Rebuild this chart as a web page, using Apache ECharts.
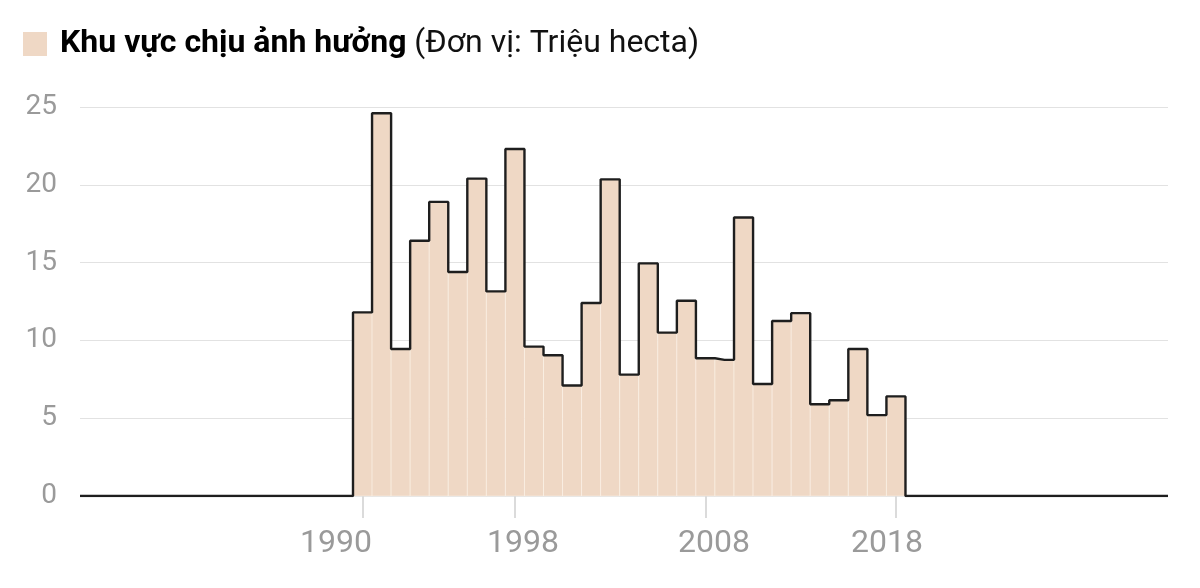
<!DOCTYPE html>
<html>
<head>
<meta charset="utf-8">
<script src="https://cdn.jsdelivr.net/npm/echarts@6/dist/echarts.min.js"></script>
<style>
html,body{margin:0;padding:0;background:#fff;}
#chart{width:1200px;height:588px;}
</style>
</head>
<body>
<div id="chart"></div>
<script>
// ---- Data ----
const years = [1990,1991,1992,1993,1994,1995,1996,1997,1998,1999,2000,2001,2002,2003,2004,2005,2006,2007,2008,2009,2010,2011,2012,2013,2014,2015,2016,2017,2018];
const areaValues = [11.8,24.6,9.45,16.4,18.9,14.4,20.4,13.15,22.3,9.6,9.05,7.1,12.4,20.35,7.8,14.95,10.5,12.55,8.85,8.75,17.9,7.2,11.25,11.75,5.9,6.15,9.45,5.2,6.4];
const xTickLabels = [1990,1998,2008,2018];
const yTicks = [0,5,10,15,20,25];
const titleBold = 'Khu vực chịu ảnh hưởng';
const titleUnit = '(Đơn vị: Triệu hecta)';

const X_MIN = 1975.17, X_MAX = 2032.28;
const FILL = '#efd8c5';

const barData = years.map((y,i)=>[y, areaValues[i]]);
const stepData = [[X_MIN,0],[years[0]-1,0]].concat(barData).concat([[years[years.length-1]+1,0],[X_MAX,0]]);

// label nudges (style only): the reference labels sit slightly off their ticks
const labelStyleKey = {1990:'a',1998:'b',2008:'c',2018:'d'};
const baseLbl = {fontFamily:'Roboto', fontSize:32, color:'#9a9a9a'};

const chart = echarts.init(document.getElementById('chart'));
chart.setOption({
  animation:false,
  backgroundColor:'#fff',
  grid:{left:80,right:32,top:107,bottom:92},
  xAxis:{
    type:'value', min:X_MIN, max:X_MAX,
    axisLine:{show:false},
    splitLine:{show:false},
    axisTick:{show:true, customValues:xTickLabels, length:22, lineStyle:{color:'#cfcfcf',width:1.5}},
    axisLabel:{customValues:xTickLabels, margin:32, fontFamily:'Roboto', fontSize:32, color:'#9a9a9a',
      formatter:v=>'{'+(labelStyleKey[Math.round(v)]||'b')+'|'+Math.round(v)+'}',
      rich:{
        a:Object.assign({padding:[0,53,0,0]},baseLbl),
        b:Object.assign({padding:[0,0,0,16]},baseLbl),
        c:Object.assign({padding:[0,0,0,17]},baseLbl),
        d:Object.assign({padding:[0,18,0,0]},baseLbl)
      }
    }
  },
  yAxis:{
    type:'value', min:0, max:25, interval:5,
    axisLine:{show:false}, axisTick:{show:false},
    splitLine:{lineStyle:{color:'#e2e2e2',width:1.2}},
    axisLabel:{margin:23, fontFamily:'Roboto', fontSize:28, color:'#9a9a9a'}
  },
  graphic:[
    {type:'rect', shape:{x:23,y:32,width:24,height:24}, style:{fill:FILL}},
    {type:'text', x:60, y:44, style:{
      text:'{b|'+titleBold+'}{r| '+titleUnit+'}',
      verticalAlign:'middle',
      rich:{
        b:{fontFamily:'Roboto',fontWeight:'bold',fontSize:32,fill:'#000'},
        r:{fontFamily:'Roboto',fontWeight:'normal',fontSize:32,fill:'#111'}
      }
    }}
  ],
  series:[
    {
      type:'custom',
      data:barData,
      z:2,
      renderItem:function(params, api){
        const p0 = api.coord([api.value(0)-0.5, api.value(1)]);
        const p1 = api.coord([api.value(0)+0.5, 0]);
        return {type:'rect', shape:{x:p0[0], y:p0[1], width:p1[0]-p0[0], height:p1[1]-p0[1]},
          style:{fill:FILL, stroke:'rgba(255,248,240,0.45)', lineWidth:1}};
      }
    },
    {
      type:'line',
      data:stepData,
      step:'middle',
      symbol:'none',
      z:3,
      lineStyle:{color:'#1e1e1e',width:2.4}
    }
  ]
});
</script>
</body>
</html>
